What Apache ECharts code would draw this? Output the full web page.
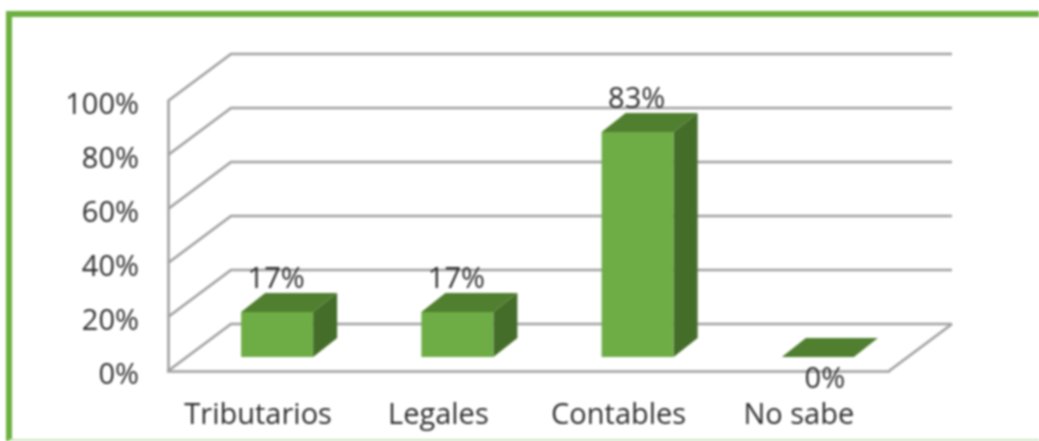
<!DOCTYPE html>
<html><head><meta charset="utf-8">
<style>html,body{margin:0;padding:0;background:#fff;overflow:hidden}#c{width:1039px;height:441px;filter:blur(0.8px)}</style>
<script src="https://cdn.jsdelivr.net/npm/echarts@6/dist/echarts.min.js"></script>
</head><body><div id="c"></div>
<script>
const categories = ['Tributarios', 'Legales', 'Contables', 'No sabe'];
const percentages = [16.7, 16.7, 83.3, 0];
const gridTicks = [0, 20, 40, 60, 80, 100];

const FONT = '"Open Sans", Lato, sans-serif';
const TEXT = '#2e2e2e';
const WALL = { dx: 63, dy: -47 };      // oblique depth of the chart box
const BAR = { dx: 19, dy: -14, width: 72, depthX: 24, depthY: -19 };
const LINE = { stroke: '#a0a0a0', lineWidth: 2.6, fill: null };

function renderWall(params, api) {
  const cs = params.coordSys;
  const p = api.coord([0, api.value(0)]);
  const y = p[1], x0 = cs.x, x1 = cs.x + cs.width;
  const children = [{
    type: 'polyline',
    shape: { points: [[x0, y], [x0 + WALL.dx, y + WALL.dy], [x1 + WALL.dx, y + WALL.dy]] },
    style: LINE
  }];
  if (api.value(0) === 0) {
    children.push({
      type: 'line',
      shape: { x1: x1, y1: y, x2: x1 + WALL.dx, y2: y + WALL.dy },
      style: LINE
    });
  }
  return { type: 'group', children };
}

function renderBar(params, api) {
  const v = api.value(1);
  const c = api.coord([api.value(0), v]);
  const base = api.coord([api.value(0), 0]);
  const l = c[0] + BAR.dx - BAR.width / 2, r = l + BAR.width;
  const top = c[1] + BAR.dy, bot = base[1] + BAR.dy;
  const dx = BAR.depthX, dy = BAR.depthY;
  const children = [];
  if (v > 0) {
    children.push({ type: 'polygon', shape: { points: [[r, top], [r + dx, top + dy], [r + dx, bot + dy], [r, bot]] }, style: { fill: '#456d2a' } });
    children.push({ type: 'rect', shape: { x: l, y: top, width: BAR.width, height: bot - top }, style: { fill: '#6eac46' } });
  }
  children.push({ type: 'polygon', shape: { points: [[l, top], [l + dx, top + dy], [r + dx, top + dy], [r, top]] }, style: { fill: '#4f7f2f' } });
  children.push({
    type: 'text',
    z2: 10,
    style: {
      text: Math.round(v) + '%',
      x: (l + r) / 2 - 1 + (v === 0 ? 8 : 0),
      y: v === 0 ? top + 23 : top - 32,
      align: 'center', verticalAlign: 'middle',
      font: '29px ' + FONT, fill: TEXT
    }
  });
  return { type: 'group', children };
}

const chart = echarts.init(document.getElementById('c'), null, { renderer: 'canvas' });
chart.setOption({
  animation: false,
  backgroundColor: '#fff',
  grid: { left: 168, right: 150, top: 101, bottom: 70, containLabel: false },
  xAxis: {
    type: 'category', data: categories,
    axisTick: { show: false },
    axisLine: { lineStyle: { color: '#a0a0a0', width: 2.6 } },
    axisLabel: { color: TEXT, fontFamily: FONT, fontSize: 29, margin: 30, interval: 0 }
  },
  yAxis: {
    type: 'value', min: 0, max: 100, interval: 20,
    splitLine: { show: false },
    axisTick: { show: false },
    axisLine: { show: true, lineStyle: { color: '#a0a0a0', width: 2.6 } },
    axisLabel: {
      fontFamily: FONT, margin: 29,
      formatter: '{t|{value}%}',
      rich: { t: { color: TEXT, fontFamily: FONT, fontSize: 29, padding: [9, 0, 0, 0] } }
    }
  },
  series: [
    { type: 'custom', z: 1, clip: false, silent: true, renderItem: renderWall,
      data: gridTicks.map(t => [t]), encode: { y: 0 } },
    { type: 'custom', z: 3, clip: false, silent: true, renderItem: renderBar,
      data: percentages.map((v, i) => [i, v]), encode: { x: 0, y: 1 } }
  ],
  graphic: [
    { type: 'polyline', z: 100, shape: { points: [[9, 441], [9, 14], [1039, 14]] }, style: { stroke: '#6cb03f', lineWidth: 6, fill: null, lineJoin: 'miter' } },
    { type: 'line', z: 100, shape: { x1: 9, y1: 440, x2: 1039, y2: 440 }, style: { stroke: '#cfe5bf', lineWidth: 2 } }
  ]
});
</script></body></html>
